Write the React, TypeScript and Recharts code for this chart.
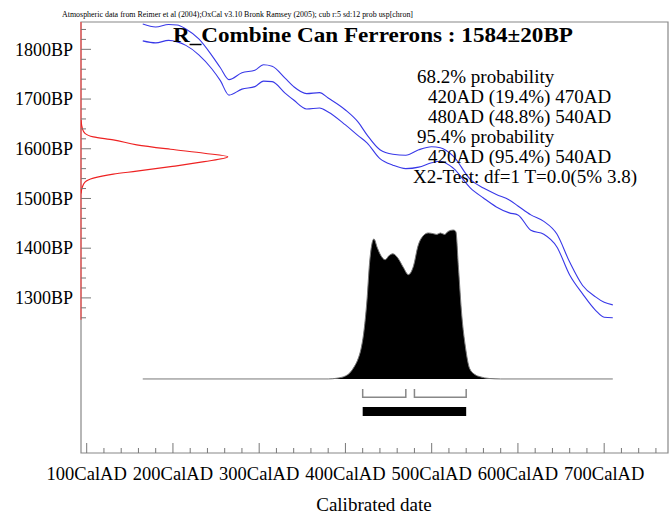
import React from 'react';
import { ComposedChart, Line, Area, XAxis, YAxis, ReferenceArea, ReferenceLine } from 'recharts';

const headerText =
  'Atmospheric data from Reimer et al (2004);OxCal v3.10 Bronk Ramsey (2005); cub r:5 sd:12 prob usp[chron]';
const titleText = 'R_Combine Can Ferrerons : 1584±20BP';
const noteLines = [
  '68.2% probability',
  '420AD (19.4%) 470AD',
  '480AD (48.8%) 540AD',
  '95.4% probability',
  '420AD (95.4%) 540AD',
  'X2-Test: df=1 T=0.0(5% 3.8)',
];

// calibration curve (±1 sigma)
const calYears = [165, 180, 195, 205, 215, 230, 245, 255, 265, 280, 295, 305, 315, 330, 340, 355, 370, 380, 400, 415, 425, 440, 455, 470, 485, 500, 510, 525, 545, 560, 575, 590, 600, 615, 630, 645, 660, 675, 690, 700, 710];
const calUpper = [1851, 1845, 1850, 1849, 1841, 1821, 1788, 1763, 1739, 1753, 1758, 1769, 1766, 1742, 1725, 1711, 1713, 1702, 1678, 1653, 1628, 1598, 1589, 1587, 1598, 1604, 1602, 1585, 1538, 1521, 1508, 1497, 1485, 1467, 1454, 1429, 1372, 1325, 1302, 1291, 1286];
const calLower = [1817, 1813, 1818, 1815, 1808, 1789, 1761, 1737, 1708, 1720, 1725, 1736, 1735, 1712, 1698, 1680, 1682, 1674, 1648, 1626, 1612, 1580, 1567, 1560, 1563, 1572, 1575, 1561, 1521, 1501, 1483, 1471, 1467, 1436, 1428, 1403, 1346, 1308, 1275, 1261, 1260];

// radiocarbon date (red, on the BP axis)
const dateBP = [1658, 1640, 1631, 1624, 1618, 1608, 1599, 1591, 1584, 1574, 1564, 1555, 1549, 1541, 1533, 1522, 1510];
const dateProb = [0, 0.01, 0.027, 0.084, 0.22, 0.38, 0.61, 0.84, 1, 0.84, 0.61, 0.38, 0.22, 0.084, 0.027, 0.008, 0];

// calibrated distribution (black)
const distYears = [165, 380, 390, 400, 405, 410, 415, 418, 421, 425, 428, 433, 437, 440, 446, 451, 455, 461, 467, 473, 479, 484, 490, 496, 502, 506, 510, 515, 519, 525, 528, 531, 535, 539, 544, 550, 556, 567, 580, 710];
const distProb = [0, 0, 0.005, 0.02, 0.04, 0.08, 0.14, 0.2, 0.3, 0.53, 0.78, 0.94, 0.88, 0.84, 0.8, 0.83, 0.84, 0.81, 0.75, 0.7, 0.76, 0.89, 0.96, 0.98, 0.975, 0.97, 0.98, 0.97, 0.99, 1, 0.99, 0.75, 0.42, 0.22, 0.07, 0.03, 0.015, 0.003, 0, 0];

const range68 = [[420, 470], [480, 540]];
const range95 = [[420, 540]];

const yearTicks = [100, 120, 140, 160, 180, 200, 220, 240, 260, 280, 300, 320, 340, 360, 380, 400, 420, 440, 460, 480, 500, 520, 540, 560, 580, 600, 620, 640, 660, 680, 700, 720, 740, 760];
const bpTicks = [1260, 1280, 1300, 1320, 1340, 1360, 1380, 1400, 1420, 1440, 1460, 1480, 1500, 1520, 1540, 1560, 1580, 1600, 1620, 1640, 1660, 1680, 1700, 1720, 1740, 1760, 1780, 1800, 1820, 1840];

const YEAR_DOMAIN = [93.4, 774];
const BP_DOMAIN = [988, 1855];
const PROB_DOMAIN = [-0.497, 2.396];
const serif = '"Liberation Serif", "Times New Roman", serif';

const calData = calYears.map((year, i) => ({ year, upper: calUpper[i], lower: calLower[i] }));
const dateData = dateBP.map((bp, i) => ({ p: dateProb[i], bp }));
const distData = distYears.map((year, i) => ({ year, p: distProb[i] }));
const bracketData = range68.map(([a, b]) => [
  { year: a, v: -0.067 },
  { year: a, v: -0.123 },
  { year: b, v: -0.123 },
  { year: b, v: -0.067 },
]);

const YearTick = (props: any) => {
  const { x, y, payload } = props;
  const major = payload.value % 100 === 0;
  return (
    <g>
      <line x1={x} x2={x} y1={y} y2={y - (major ? 10 : 5)} stroke="#777" />
      {major && (
        <text x={x} y={y + 27} textAnchor="middle" fontSize={18.5} fontFamily={serif} fill="#000">
          {payload.value}CalAD
        </text>
      )}
    </g>
  );
};

const BpTick = (props: any) => {
  const { x, y, payload } = props;
  const major = payload.value % 100 === 0;
  return (
    <g>
      <line x1={x} x2={x + (major ? 10 : 5)} y1={y} y2={y} stroke="#777" />
      {major && (
        <text x={x - 8} y={y + 6.3} textAnchor="end" fontSize={18} fontFamily={serif} fill="#000">
          {payload.value}BP
        </text>
      )}
    </g>
  );
};

const noteX = [417, 428, 428, 417, 428, 413];

export default function App() {
  return (
    <div style={{ position: 'absolute', left: 0, top: 0, width: 672, height: 517, background: '#fff' }}>
      <ComposedChart width={672} height={517} margin={{ top: 22, right: 4, bottom: 0, left: 0 }}>
        <XAxis
          xAxisId="year"
          dataKey="year"
          type="number"
          domain={YEAR_DOMAIN}
          allowDataOverflow
          ticks={yearTicks}
          interval={0}
          height={64}
          axisLine={false}
          tickLine={false}
          tickSize={0}
          tickMargin={0}
          tick={<YearTick />}
        />
        <XAxis
          xAxisId="gauss"
          dataKey="p"
          type="number"
          domain={[0, 4]}
          allowDataOverflow
          orientation="top"
          height={0}
          hide
        />
        <YAxis
          yAxisId="bp"
          type="number"
          domain={BP_DOMAIN}
          allowDataOverflow
          ticks={bpTicks}
          interval={0}
          width={81}
          axisLine={false}
          tickLine={false}
          tickSize={0}
          tickMargin={0}
          tick={<BpTick />}
        />
        <YAxis
          yAxisId="prob"
          type="number"
          domain={PROB_DOMAIN}
          allowDataOverflow
          orientation="right"
          width={0}
          hide
        />

        <ReferenceArea
          xAxisId="year"
          yAxisId="bp"
          x1={YEAR_DOMAIN[0]}
          x2={YEAR_DOMAIN[1]}
          y1={BP_DOMAIN[0]}
          y2={BP_DOMAIN[1]}
          fill="none"
          stroke="#888"
          strokeWidth={1.2}
        />
        <ReferenceLine
          xAxisId="year"
          yAxisId="bp"
          segment={[{ x: YEAR_DOMAIN[0], y: BP_DOMAIN[1] }, { x: YEAR_DOMAIN[0], y: 1256 }]}
          stroke="#e86060"
          strokeWidth={1.5}
        />

        <Area
          data={distData}
          xAxisId="year"
          yAxisId="prob"
          dataKey="p"
          type="monotone"
          baseValue={0}
          fill="#000"
          fillOpacity={1}
          stroke="#777"
          strokeWidth={1}
          isAnimationActive={false}
        />
        {bracketData.map((d, i) => (
          <Line
            key={'b' + i}
            data={d}
            xAxisId="year"
            yAxisId="prob"
            dataKey="v"
            type="linear"
            stroke="#888"
            strokeWidth={1.5}
            dot={false}
            isAnimationActive={false}
          />
        ))}
        {range95.map(([a, b], i) => (
          <ReferenceArea
            key={'r' + i}
            xAxisId="year"
            yAxisId="prob"
            x1={a}
            x2={b}
            y1={-0.248}
            y2={-0.188}
            fill="#000"
            fillOpacity={1}
            stroke="none"
          />
        ))}

        <Line
          data={calData}
          xAxisId="year"
          yAxisId="bp"
          dataKey="upper"
          type="monotone"
          stroke="#3838e8"
          strokeWidth={1.1}
          dot={false}
          isAnimationActive={false}
        />
        <Line
          data={calData}
          xAxisId="year"
          yAxisId="bp"
          dataKey="lower"
          type="monotone"
          stroke="#3838e8"
          strokeWidth={1.1}
          dot={false}
          isAnimationActive={false}
        />
        <Line
          data={dateData}
          xAxisId="gauss"
          yAxisId="bp"
          dataKey="bp"
          type="monotoneY"
          stroke="#ee2222"
          strokeWidth={1.2}
          dot={false}
          isAnimationActive={false}
        />
      </ComposedChart>

      <svg
        width={672}
        height={517}
        style={{ position: 'absolute', left: 0, top: 0, pointerEvents: 'none' }}
        fontFamily={serif}
      >
        <text x={62} y={17} fontSize={9} textLength={351} lengthAdjust="spacingAndGlyphs" fill="#000">
          {headerText}
        </text>
        <text
          x={373}
          y={42}
          textAnchor="middle"
          fontSize={22}
          fontWeight="bold"
          textLength={400}
          lengthAdjust="spacingAndGlyphs"
          fill="#000"
        >
          {titleText}
        </text>
        {noteLines.map((t, i) => (
          <text key={t} x={noteX[i]} y={83.3 + i * 20} fontSize={19} fill="#000">
            {t}
          </text>
        ))}
        <text x={374} y={511} textAnchor="middle" fontSize={19} fill="#000">
          Calibrated date
        </text>
      </svg>
    </div>
  );
}
